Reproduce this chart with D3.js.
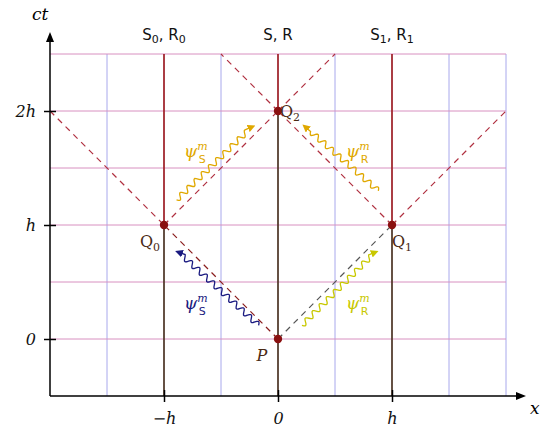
<!DOCTYPE html>
<html><head><meta charset="utf-8">
<script src="https://cdn.jsdelivr.net/npm/d3@7"></script>
<style>body{margin:0;background:#fff}</style>
</head><body>
<svg id="c" width="550" height="437"></svg>
<script>
// data in units of h
var xTicks = [-1, 0, 1];
var xTickLabels = ["\u2212h", "0", "h"];
var tTicks = [0, 1, 2];
var tTickLabels = ["0", "h", "2h"];
var gridX = [-1.5, -1, -0.5, 0, 0.5, 1, 1.5, 2];
var gridT = [0, 0.5, 1, 1.5, 2, 2.5];
var worldLines = [{x:-1, split:1, name:["S","0","R","0"]}, {x:0, split:2, name:["S","","R",""]}, {x:1, split:1, name:["S","1","R","1"]}];
var points = [{name:"Q", sub:"0", x:-1, t:1, dx:-14, dy:22}, {name:"Q", sub:"1", x:1, t:1, dx:10, dy:22},
              {name:"Q", sub:"2", x:0, t:2, dx:12, dy:6}, {name:"P", sub:"", x:0, t:0, dx:-16, dy:22}];
var rays = [
  {a:[0,0], b:[1,1], c:"#555"}, {a:[0,0], b:[-1,1], c:"#8a1c1c"},
  {a:[-1,1], b:[0,2], c:"#b03040"}, {a:[1,1], b:[0,2], c:"#b03040"},
  {a:[-2,2], b:[-1,1], c:"#b03040"}, {a:[1,1], b:[2,2], c:"#b03040"},
  {a:[0,2], b:[-0.5,2.5], c:"#b03040"}, {a:[0,2], b:[0.5,2.5], c:"#b03040"}];
var waves = [
  {a:[-0.89,1.22], b:[-0.23,1.86], c:"#e0a800", sub:"S", lx:-0.72, lt:1.6},
  {a:[0.88,1.3], b:[0.24,1.86], c:"#e0a800", sub:"R", lx:0.7, lt:1.6},
  {a:[0.21,0.12], b:[0.85,0.76], c:"#c8c800", sub:"R", lx:0.7, lt:0.26},
  {a:[-0.17,0.12], b:[-0.87,0.76], c:"#1a1a80", sub:"S", lx:-0.72, lt:0.26}];

var svg = d3.select("#c");
var x = d3.scaleLinear().domain([0, 1]).range([278, 392]);
var y = d3.scaleLinear().domain([0, 1]).range([339, 225]);
var tBot = -0.5, xL = -2, xR = 2, tTop = 2.5;
var serif = "'DejaVu Serif', 'Liberation Serif', serif";
var sans = "'DejaVu Sans', 'Liberation Sans', sans-serif";

svg.append("defs").selectAll("marker").data(waves).enter().append("marker")
  .attr("id", function(d,i){return "m"+i}).attr("viewBox","0 0 10 10").attr("refX",5).attr("refY",5)
  .attr("markerWidth",6).attr("markerHeight",6).attr("orient","auto")
  .append("path").attr("d","M0,0L10,5L0,10z").attr("fill", function(d){return d.c});

// grid
svg.selectAll(".gx").data(gridX).enter().append("line")
  .attr("x1", x).attr("x2", x).attr("y1", y(tBot)).attr("y2", y(tTop))
  .attr("stroke", "#a8a8ec").attr("stroke-width", 1);
svg.selectAll(".gt").data(gridT).enter().append("line")
  .attr("x1", x(xL)).attr("x2", x(xR)).attr("y1", y).attr("y2", y)
  .attr("stroke", "#d890c0").attr("stroke-width", 1);

// world lines
worldLines.forEach(function(w) {
  svg.append("line").attr("x1", x(w.x)).attr("x2", x(w.x)).attr("y1", y(tBot)).attr("y2", y(w.split))
    .attr("stroke", "#4a3018").attr("stroke-width", 1.6);
  svg.append("line").attr("x1", x(w.x)).attr("x2", x(w.x)).attr("y1", y(w.split)).attr("y2", y(tTop))
    .attr("stroke", "#a01818").attr("stroke-width", 1.6);
  var t = svg.append("text").attr("x", x(w.x)).attr("y", 40).attr("text-anchor", "middle")
    .attr("font-family", sans).attr("font-size", 15).attr("fill", "#111");
  t.append("tspan").text(w.name[0]);
  if (w.name[1]) t.append("tspan").attr("dy", 3).attr("font-size", 11).text(w.name[1]);
  t.append("tspan").attr("dy", w.name[1] ? -3 : 0).text(", " + w.name[2]);
  if (w.name[3]) t.append("tspan").attr("dy", 3).attr("font-size", 11).text(w.name[3]);
});

// light rays
svg.selectAll(".ray").data(rays).enter().append("line")
  .attr("x1", function(d){return x(d.a[0])}).attr("y1", function(d){return y(d.a[1])})
  .attr("x2", function(d){return x(d.b[0])}).attr("y2", function(d){return y(d.b[1])})
  .attr("stroke", function(d){return d.c}).attr("stroke-width", 1.2).attr("stroke-dasharray", "6,5");

// wavy signals
waves.forEach(function(w, i) {
  var x0 = x(w.a[0]), y0 = y(w.a[1]), x1 = x(w.b[0]), y1 = y(w.b[1]);
  var L = Math.hypot(x1-x0, y1-y0), ux = (x1-x0)/L, uy = (y1-y0)/L;
  var pts = d3.range(0, L - 6, 1).map(function(s) {
    var o = 2.8 * Math.sin(s / 10 * 2 * Math.PI);
    return [x0 + ux*s - uy*o, y0 + uy*s + ux*o];
  });
  pts.push([x1, y1]);
  svg.append("path").attr("d", d3.line()(pts)).attr("fill", "none").attr("stroke", w.c)
    .attr("stroke-width", 1.3).attr("marker-end", "url(#m"+i+")");
  var t = svg.append("text").attr("x", x(w.lx)).attr("y", y(w.lt)).attr("text-anchor", "middle")
    .attr("font-family", serif).attr("fill", w.c).attr("font-size", 17);
  t.append("tspan").attr("font-style", "italic").text("\u03c8");
  t.append("tspan").attr("dy", -7).attr("font-size", 11).attr("font-style", "italic").text("m");
  t.append("tspan").attr("dx", -9).attr("dy", 13).attr("font-size", 11).attr("font-family", sans).text(w.sub);
});

// events
svg.selectAll(".pt").data(points).enter().append("circle")
  .attr("cx", function(d){return x(d.x)}).attr("cy", function(d){return y(d.t)}).attr("r", 4.2)
  .attr("fill", "#8a1010");
points.forEach(function(p) {
  var t = svg.append("text").attr("x", x(p.x) + p.dx).attr("y", y(p.t) + p.dy).attr("text-anchor", "middle")
    .attr("font-family", serif).attr("font-size", 16).attr("fill", "#4a2a14")
    .attr("font-style", p.sub ? "normal" : "italic");
  t.append("tspan").text(p.name);
  if (p.sub) t.append("tspan").attr("dy", 4).attr("font-size", 11).text(p.sub);
});

// axes
var ax = svg.append("g").attr("transform", "translate(0," + y(tBot) + ")")
  .call(d3.axisBottom(x).tickValues(xTicks).tickFormat(function(d,i){return xTickLabels[i]}).tickSize(6).tickSizeOuter(0));
ax.select(".domain").attr("d", "M" + x(xL) + ",0H" + (x(xR) + 12));
var ay = svg.append("g").attr("transform", "translate(" + x(xL) + ",0)")
  .call(d3.axisLeft(y).tickValues(tTicks).tickFormat(function(d,i){return tTickLabels[i]}).tickSize(6).tickSizeOuter(0));
ay.select(".domain").attr("d", "M0," + y(tBot) + "V" + (y(tTop) - 14));
svg.selectAll(".tick line").attr("stroke", "#000").attr("stroke-width", 1.5).attr("transform", function() {
  return this.getAttribute("x2") ? "translate(6,0)" : "translate(0,-6)"; });
ax.selectAll(".tick line").attr("y1", -6).attr("transform", null).attr("y2", 6);
ay.selectAll(".tick line").attr("x1", 6).attr("transform", null).attr("x2", -6);
svg.selectAll(".domain").attr("stroke", "#000").attr("stroke-width", 1.5);
svg.selectAll(".tick text").attr("font-family", serif).attr("font-style", "italic").attr("font-size", 16).attr("fill", "#111");
ax.selectAll(".tick text").attr("dy", "1.2em");
ay.selectAll(".tick text").attr("x", -14);
svg.append("path").attr("d", "M" + (x(xR)+20) + "," + y(tBot) + "l-10,-4v8z").attr("fill", "#000");
svg.append("path").attr("d", "M" + x(xL) + "," + (y(tTop)-22) + "l-4,10h8z").attr("fill", "#000");
svg.append("text").attr("x", 530).attr("y", 414).attr("font-family", serif).attr("font-style", "italic").attr("font-size", 17).text("x");
svg.append("text").attr("x", 32).attr("y", 20).attr("font-family", serif).attr("font-style", "italic").attr("font-size", 17).text("ct");
</script>
</body></html>
